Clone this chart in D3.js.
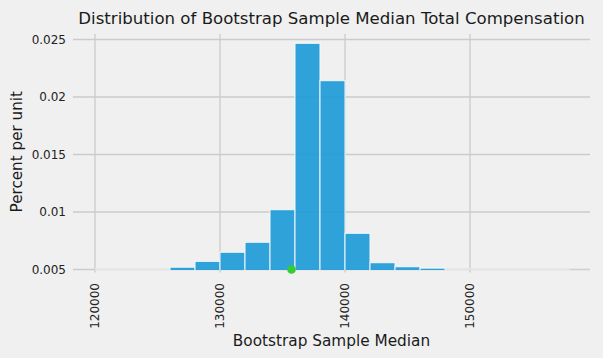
<!DOCTYPE html>
<html><head><meta charset="utf-8">
<script src="https://cdn.jsdelivr.net/npm/d3@7"></script>
<style>
html,body{margin:0;padding:0;background:#f0f0f0;}
svg{display:block;font-family:"DejaVu Sans",sans-serif;}
</style></head>
<body>
<svg id="c" width="603" height="358"></svg>
<script>
// Data
const binEdges = [120000,122000,124000,126000,128000,130000,132000,134000,136000,138000,140000,
                  142000,144000,146000,148000,150000,152000,154000,156000,158000,160000];
const binValues = [0,0,0,0.0052,0.00571,0.0065,0.00737,0.0102,0.02467,0.02142,0.00815,
                   0.00559,0.00524,0.00512,0,0,0,0,0,0.00503];
const observedMedian = [135720];
const xTicks = [120000,130000,140000,150000];
const yTicks = [0.005,0.01,0.015,0.02,0.025];
const yTickLabels = ["0.005","0.01","0.015","0.02","0.025"];
const titleText = "Distribution of Bootstrap Sample Median Total Compensation";
const xLabelText = "Bootstrap Sample Median";
const yLabelText = "Percent per unit";

const L=73, R=590, T=34, B=269.5;
const x = d3.scaleLinear().domain([118240,159600]).range([L,R]);
const y = d3.scaleLinear().domain([0.005,0.02548]).range([B,T]);

const svg = d3.select("#c");
svg.append("defs").append("clipPath").attr("id","clip")
  .append("rect").attr("x",L).attr("y",T).attr("width",R-L).attr("height",B-T+0.5);

const grid = svg.append("g");
grid.selectAll(".hg").data(yTicks).join("line")
  .attr("x1",L).attr("x2",R).attr("y1",d=>y(d)).attr("y2",d=>y(d))
  .attr("stroke","#cbcbcb").attr("stroke-width",1.3);
grid.selectAll(".vg").data(xTicks).join("line")
  .attr("y1",T).attr("y2",B+3).attr("x1",d=>x(d)).attr("x2",d=>x(d))
  .attr("stroke","#cbcbcb").attr("stroke-width",1.3);

const bins = binValues.map((v,i)=>({x0:binEdges[i],x1:binEdges[i+1],v}));
const gb = svg.append("g").attr("clip-path","url(#clip)");
// baseline band from zero-height bin edges
gb.append("line").attr("x1",x(binEdges[0])).attr("x2",x(binEdges[binEdges.length-1]))
  .attr("y1",B).attr("y2",B).attr("stroke","#e6e6e6").attr("stroke-width",2.5);
gb.selectAll("rect").data(bins.filter(d=>d.v>0.005)).join("rect")
  .attr("x",d=>x(d.x0)).attr("width",d=>x(d.x1)-x(d.x0))
  .attr("y",d=>y(d.v)).attr("height",d=>B-y(d.v)+1)
  .attr("fill",d=>d.v<0.00505?"#c8c8c8":"#1f9bd8").attr("fill-opacity",0.92)
  .attr("stroke","#f4f8fb").attr("stroke-width",d=>d.v<0.00505?0:1);

svg.selectAll(".dot").data(observedMedian).join("circle")
  .attr("cx",d=>x(d)).attr("cy",B).attr("r",4.3).attr("fill","#32cd32");

// y tick labels
svg.selectAll(".yt").data(yTicks).join("text")
  .attr("x",66).attr("y",d=>y(d)).attr("dy","0.35em")
  .attr("text-anchor","end").attr("font-size",12).attr("fill","#222")
  .text((d,i)=>yTickLabels[i]);
// x tick labels
svg.selectAll(".xt").data(xTicks).join("text")
  .attr("transform",d=>`translate(${x(d)},283) rotate(-90)`)
  .attr("dy","0.35em").attr("text-anchor","end").attr("font-size",12).attr("fill","#222")
  .text(d=>d);

svg.append("text").attr("x",(L+R)/2).attr("y",24).attr("text-anchor","middle")
  .attr("font-size",16.6).attr("fill","#1a1a1a").text(titleText);
svg.append("text").attr("x",(L+R)/2).attr("y",346).attr("text-anchor","middle")
  .attr("font-size",15.3).attr("fill","#1a1a1a").text(xLabelText);
svg.append("text").attr("transform",`translate(21.5,${(T+B)/2}) rotate(-90)`)
  .attr("text-anchor","middle").attr("font-size",15.2).attr("fill","#1a1a1a").text(yLabelText);
</script>
</body></html>
